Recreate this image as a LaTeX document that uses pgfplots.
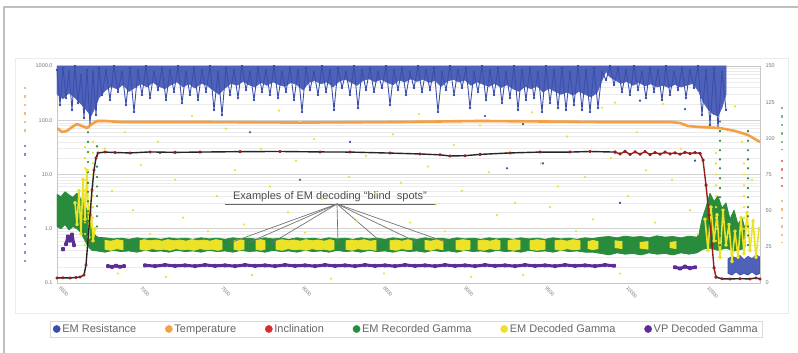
\documentclass[border=0pt]{standalone}
\usepackage{fontspec}
\setmainfont{Liberation Sans}
\usepackage{pgfplots}
\pgfplotsset{compat=1.18}
\definecolor{emblue}{RGB}{58,78,172}
\definecolor{embluefill}{RGB}{78,98,186}
\definecolor{temporange}{RGB}{243,160,70}
\definecolor{inclred}{RGB}{215,45,45}
\definecolor{inclmark}{RGB}{150,30,30}
\definecolor{emgreen}{RGB}{40,140,60}
\definecolor{emyellow}{RGB}{236,226,40}
\definecolor{vppurple}{RGB}{92,45,150}
\definecolor{ticktext}{RGB}{120,120,120}
\begin{document}
\begin{tikzpicture}
\useasboundingbox (0pt,0pt) rectangle (798pt,353pt);
\fill[white] (0pt,0pt) rectangle (798pt,353pt);
\draw[black!25, line width=1.2pt] (4pt,0pt) -- (4pt,346pt) -- (798pt,346pt);
\draw[black!8, line width=0.6pt] (15pt,40pt) rectangle (788pt,295pt);
% stray axis-title remnants
\draw[temporange!70, line width=2.5pt, dash pattern=on 2.5pt off 6pt] (25pt,266pt) -- (25pt,221pt);
\draw[vppurple!60, line width=2.5pt, dash pattern=on 2.5pt off 6pt] (25pt,208pt) -- (25pt,196pt);
\draw[emblue!60, line width=2.5pt, dash pattern=on 2.5pt off 6pt] (25pt,178pt) -- (25pt,91pt);
\draw[emgreen!60, line width=2.5pt, dash pattern=on 2.5pt off 6pt] (782pt,246pt) -- (782pt,203pt);
\draw[inclred!60, line width=2.5pt, dash pattern=on 2.5pt off 6pt] (782pt,193pt) -- (782pt,166pt);
\draw[temporange!70, line width=2.5pt, dash pattern=on 2.5pt off 6pt] (782pt,153pt) -- (782pt,110pt);

\begin{axis}[
  at={(57pt,70pt)}, anchor=south west, scale only axis,
  width=703pt, height=217pt,
  xmin=57, xmax=760, ymode=log, ymin=0.1, ymax=1000,
  axis line style={black!22, line width=0.6pt},
  tick pos=left, major tick length=0pt, minor tick length=0pt,
  xtick={64,145,226,307,388,469,550,631,712},
  xticklabels={6500,7000,7500,8000,8500,9000,9500,10000,10500},
  ytick={0.1,1,10,100,1000},
  yticklabels={0.1,1.0,10.0,100.0,1000.0},
  minor ytick={0.2,0.3,0.4,0.5,0.6,0.7,0.8,0.9,2,3,4,5,6,7,8,9,20,30,40,50,60,70,80,90,200,300,400,500,600,700,800,900},
  ymajorgrids, yminorgrids,
  major grid style={black!18, line width=0.6pt},
  minor grid style={black!8, line width=0.3pt},
  tick label style={text=ticktext},
  y tick label style={font=\fontsize{5.5}{6}\selectfont, xshift=-1pt},
  x tick label style={font=\fontsize{5}{6}\selectfont, rotate=-50, anchor=north west, inner sep=0.5pt, yshift=-3pt},
  /pgf/number format/assume math mode=true,
  unbounded coords=jump,
]
% EM Resistance: dense upper part of the band
\addplot[embluefill, fill=embluefill, line width=0.6pt] coordinates {
(57,300) (63,250) (69,320) (75,260) (81,200) (87,150) (91,120) (95,170) (99,260) (105,350) (111,420) (117,380) (123,450) (129,340) (135,400) (141,470) (147,410) (153,500) (159,420) (165,380) (171,450) (177,510) (183,410) (189,470) (195,390) (201,480) (207,440) (213,360) (219,300) (225,390) (231,480) (237,440) (243,520) (249,450) (255,410) (261,500) (267,440) (273,510) (279,450) (285,420) (291,500) (297,450) (303,360) (309,500) (315,540) (321,470) (327,510) (333,410) (339,520) (345,570) (351,500) (357,440) (363,540) (369,580) (375,510) (381,570) (387,500) (393,450) (399,550) (405,510) (411,580) (417,520) (423,570) (429,500) (435,540) (441,420) (447,520) (453,570) (459,510) (465,550) (471,440) (477,510) (483,460) (489,420) (495,480) (501,400) (507,450) (513,380) (519,340) (525,420) (531,380) (537,430) (543,330) (549,390) (555,340) (561,300) (567,330) (573,290) (579,340) (585,300) (591,270) (597,320) (603,600) (606,800) (609,650) (615,550) (621,480) (627,520) (633,440) (639,500) (645,430) (651,470) (657,410) (663,440) (669,400) (675,460) (681,410) (687,440) (693,480) (699,330) (703,220) (708,160) (713,130) (718,120) (722,170) (726,300) (726,1000) (57,1000)
} -- cycle;
% EM Resistance: individual swings
\addplot[emblue, line width=0.9pt, line join=round, mark=*, mark size=0.8pt] coordinates {
(57,844) (60,191) (63,918) (66,257) (69,775) (72,155) (75,1000) (78,208) (81,682) (84,110) (87,844) (90,82) (93,775) (96,125) (99,918) (102,292) (106,844) (110,236) (114,1000) (118,332) (122,775) (126,191) (130,918) (134,142) (138,844) (142,292) (146,1000) (150,257) (154,775) (158,361) (162,918) (166,236) (170,844) (174,332) (178,1000) (182,208) (186,775) (190,292) (194,918) (198,236) (202,844) (206,332) (210,1000) (214,155) (218,775) (222,125) (226,918) (230,292) (234,844) (238,257) (242,1000) (246,361) (250,775) (254,236) (258,918) (262,332) (266,844) (270,292) (274,1000) (278,257) (282,775) (286,332) (290,918) (294,236) (298,844) (302,142) (306,918) (310,361) (314,775) (318,292) (322,1000) (326,332) (330,844) (334,155) (338,918) (342,393) (346,775) (350,292) (354,1000) (358,168) (362,844) (366,361) (370,918) (374,332) (378,775) (382,393) (386,1000) (390,191) (394,844) (398,361) (402,918) (406,292) (410,775) (414,393) (418,1000) (422,332) (426,844) (430,361) (434,918) (438,142) (442,775) (446,361) (450,1000) (454,292) (458,844) (462,393) (466,918) (470,168) (474,775) (478,332) (482,1000) (486,236) (490,844) (494,292) (498,918) (502,208) (506,775) (510,257) (514,1000) (518,155) (522,844) (526,236) (530,918) (534,257) (538,775) (542,142) (546,1000) (550,208) (554,844) (558,168) (562,918) (566,155) (570,775) (574,191) (578,1000) (582,155) (586,844) (590,142) (594,918) (598,168) (602,775) (606,552) (610,1000) (614,447) (618,918) (622,332) (626,844) (630,292) (634,1000) (638,361) (642,775) (646,257) (650,918) (654,332) (658,844) (662,236) (666,1000) (670,292) (674,775) (678,361) (682,918) (686,257) (690,844) (694,393) (698,1000) (702,125) (706,844) (710,82) (714,918) (718,72) (722,775) (726,155)
};
\addplot[emblue, only marks, mark=*, mark size=0.9pt] coordinates {
(485,120) (523,85) (507,13) (543,16) (695,18) (640,230) (685,160) (350,40) (250,60) (160,25) (300,8) (620,3)
};
\addplot[emblue, fill=embluefill, line width=0.6pt] coordinates {
(728,0.15) (732,0.14) (736,0.16) (740,0.14) (744,0.15) (748,0.14) (752,0.16) (756,0.14) (760,0.15) (760,0.30) (756,0.33) (752,0.28) (748,0.31) (744,0.27) (740,0.32) (736,0.29) (732,0.31) (728,0.28)
} -- cycle;
% EM Recorded Gamma
\addplot[emgreen, fill=emgreen, line width=0.8pt, line join=round] coordinates {
(57,1.1) (61,1.0) (65,1.2) (69,0.95) (73,1.1) (77,1.0) (81,0.85) (85,0.6) (89,0.45) (92,0.40)
(97,0.39) (105,0.37) (113,0.40) (121,0.38) (129,0.39) (137,0.37) (145,0.40) (153,0.38) (161,0.39) (169,0.37) (177,0.40) (185,0.38) (193,0.39) (201,0.37) (209,0.40) (217,0.38) (225,0.39) (233,0.37) (241,0.40) (249,0.38) (257,0.39) (265,0.37) (273,0.40) (281,0.38) (289,0.39) (297,0.37) (305,0.40) (313,0.38) (321,0.39) (329,0.37) (337,0.40) (345,0.38) (353,0.39) (361,0.37) (369,0.40) (377,0.38) (385,0.39) (393,0.37) (401,0.40) (409,0.38) (417,0.39) (425,0.37) (433,0.40) (441,0.38) (449,0.39) (457,0.37) (465,0.40) (473,0.38) (481,0.39) (489,0.37) (497,0.40) (505,0.38) (513,0.39) (521,0.37) (529,0.40) (537,0.38) (545,0.39) (553,0.37) (561,0.40) (569,0.38) (577,0.39) (585,0.37) (593,0.37) (601,0.35) (609,0.33) (617,0.36) (625,0.34) (633,0.35) (641,0.33) (649,0.36) (657,0.34) (665,0.35) (673,0.33) (681,0.36) (689,0.34) (697,0.36)
(703,0.42) (710,0.44) (718,0.40) (726,0.44) (734,0.39) (742,0.42) (745,0.46)
(745,1.0) (742,1.6) (738,1.2) (734,2.2) (730,1.5) (726,3.0) (722,2.4) (718,4.0) (714,3.2) (710,4.5) (706,2.5) (702,1.5) (699,0.8)
(697,0.70) (689,0.73) (681,0.68) (673,0.72) (665,0.70) (657,0.74) (649,0.68) (641,0.72) (633,0.70) (625,0.73) (617,0.68) (609,0.72) (601,0.70) (593,0.66) (585,0.68) (577,0.64) (569,0.67) (561,0.65) (553,0.68) (545,0.64) (537,0.67) (529,0.65) (521,0.68) (513,0.64) (505,0.67) (497,0.65) (489,0.68) (481,0.64) (473,0.67) (465,0.65) (457,0.68) (449,0.64) (441,0.67) (433,0.65) (425,0.68) (417,0.64) (409,0.67) (401,0.65) (393,0.68) (385,0.64) (377,0.67) (369,0.65) (361,0.68) (353,0.64) (345,0.67) (337,0.65) (329,0.68) (321,0.64) (313,0.67) (305,0.65) (297,0.68) (289,0.64) (281,0.67) (273,0.65) (265,0.68) (257,0.64) (249,0.67) (241,0.65) (233,0.68) (225,0.64) (217,0.67) (209,0.65) (201,0.68) (193,0.64) (185,0.67) (177,0.65) (169,0.68) (161,0.64) (153,0.67) (145,0.65) (137,0.68) (129,0.64) (121,0.67) (113,0.65) (105,0.68) (97,0.70)
(92,0.9) (89,1.6) (85,2.8) (81,3.5) (77,4.5) (73,3.8) (69,4.2) (65,4.8) (61,3.9) (57,4.3)
} -- cycle;
\addplot[emgreen, only marks, mark=*, mark size=0.9pt] coordinates {
(88,0.6) (88,0.9) (88,1.4) (88,2.1) (88,3.2) (88,4.8) (88,7) (88,11) (88,17) (88,26) (88,40) (88,60)
(97,0.7) (97,1.1) (97,1.7) (97,2.6) (97,4) (97,6) (97,9) (97,14) (97,22) (97,33)
(720,0.5) (720,0.75) (720,1.1) (720,1.7) (720,2.5) (720,3.8) (720,5.6) (720,8.5) (720,13) (720,19) (720,28) (720,42) (720,63) (720,95)
(748,0.5) (748,0.75) (748,1.1) (748,1.7) (748,2.5) (748,3.8) (748,5.6) (748,8.5) (748,13) (748,19) (748,28) (748,42) (748,63)
};
% EM Decoded Gamma: band segments
\addplot[emyellow, fill=emyellow, line width=0.8pt] coordinates {(105,0.42) (111,0.40) (117,0.43) (123,0.41) (123,0.60) (117,0.63) (111,0.59) (105,0.61)} -- cycle;
\addplot[emyellow, fill=emyellow, line width=0.8pt] coordinates {(140,0.42) (146,0.40) (152,0.43) (158,0.41) (164,0.42) (170,0.40) (176,0.43) (182,0.41) (188,0.42) (194,0.40) (200,0.43) (206,0.41) (212,0.42) (218,0.40) (222,0.42) (222,0.60) (216,0.63) (210,0.59) (204,0.62) (198,0.60) (192,0.63) (186,0.59) (180,0.62) (174,0.60) (168,0.63) (162,0.59) (156,0.62) (150,0.60) (144,0.63) (140,0.60)} -- cycle;
\addplot[emyellow, fill=emyellow, line width=0.8pt] coordinates {(234,0.42) (239,0.40) (244,0.42) (244,0.61) (239,0.63) (234,0.60)} -- cycle;
\addplot[emyellow, fill=emyellow, line width=0.8pt] coordinates {(256,0.42) (261,0.40) (265,0.42) (265,0.60) (261,0.63) (256,0.61)} -- cycle;
\addplot[emyellow, fill=emyellow, line width=0.8pt] coordinates {(276,0.42) (282,0.40) (288,0.43) (294,0.41) (300,0.42) (306,0.40) (312,0.43) (318,0.41) (324,0.42) (330,0.40) (334,0.42) (334,0.60) (330,0.63) (324,0.59) (318,0.62) (312,0.60) (306,0.63) (300,0.59) (294,0.62) (288,0.60) (282,0.63) (276,0.60)} -- cycle;
\addplot[emyellow, fill=emyellow, line width=0.8pt] coordinates {(346,0.42) (352,0.40) (358,0.43) (364,0.41) (370,0.42) (376,0.40) (376,0.61) (370,0.59) (364,0.63) (358,0.60) (352,0.62) (346,0.60)} -- cycle;
\addplot[emyellow, fill=emyellow, line width=0.8pt] coordinates {(390,0.42) (396,0.40) (402,0.43) (408,0.41) (412,0.42) (412,0.60) (408,0.63) (402,0.59) (396,0.62) (390,0.60)} -- cycle;
\addplot[emyellow, fill=emyellow, line width=0.8pt] coordinates {(425,0.42) (431,0.40) (437,0.43) (443,0.41) (443,0.60) (437,0.63) (431,0.59) (425,0.61)} -- cycle;
\addplot[emyellow, fill=emyellow, line width=0.8pt] coordinates {(456,0.42) (463,0.40) (470,0.42) (470,0.60) (463,0.63) (456,0.60)} -- cycle;
\addplot[emyellow, fill=emyellow, line width=0.8pt] coordinates {(478,0.42) (484,0.40) (490,0.43) (496,0.41) (500,0.42) (500,0.60) (496,0.63) (490,0.59) (484,0.62) (478,0.60)} -- cycle;
\addplot[emyellow, fill=emyellow, line width=0.8pt] coordinates {(508,0.42) (514,0.40) (520,0.42) (520,0.61) (514,0.63) (508,0.60)} -- cycle;
\addplot[emyellow, fill=emyellow, line width=0.8pt] coordinates {(530,0.42) (537,0.40) (545,0.42) (545,0.60) (537,0.63) (530,0.60)} -- cycle;
\addplot[emyellow, fill=emyellow, line width=0.8pt] coordinates {(555,0.42) (561,0.40) (567,0.43) (573,0.41) (580,0.42) (580,0.60) (573,0.63) (567,0.59) (561,0.62) (555,0.60)} -- cycle;
\addplot[emyellow, fill=emyellow, line width=0.8pt] coordinates {(588,0.43) (593,0.41) (598,0.43) (598,0.58) (593,0.61) (588,0.58)} -- cycle;
\addplot[emyellow, fill=emyellow, line width=0.8pt] coordinates {(615,0.45) (622,0.43) (622,0.58) (615,0.60)} -- cycle;
\addplot[emyellow, fill=emyellow, line width=0.8pt] coordinates {(640,0.44) (648,0.42) (648,0.58) (640,0.56)} -- cycle;
\addplot[emyellow, fill=emyellow, line width=0.8pt] coordinates {(670,0.45) (676,0.43) (676,0.58) (670,0.56)} -- cycle;
% EM Decoded Gamma: scattered parts
\addplot[emyellow, line width=1.6pt, line join=round, mark=*, mark size=1.1pt] coordinates {
(75,3) (77,1.2) (79,5) (81,0.8) (83,8) (85,1.5) (87,12) (89,0.7) (91,2.5) (93,0.6) (95,1.0) (97,nan)
(705,1.5) (708,0.4) (711,2.5) (714,0.6) (717,1.8) (720,0.3) (723,2.2) (726,0.5) (729,1.2) (732,0.25) (735,0.9) (738,0.3) (741,1.6) (744,0.35) (747,2.0) (750,0.4) (753,1.4) (756,0.3) (759,1.0)
};
\addplot[emyellow, only marks, mark=*, mark size=0.9pt] coordinates {
(85,0.5) (85,0.8) (85,1.3) (85,2) (85,3.2) (85,5) (85,8) (85,13) (85,20) (85,32)
(93,0.6) (93,1) (93,1.6) (93,2.5) (93,4) (93,6.3) (93,10) (93,16) (93,25) (93,40)
(716,0.6) (716,1) (716,1.6) (716,2.5) (716,4) (716,6.3) (716,10) (716,16) (716,25)
(744,0.6) (744,1) (744,1.6) (744,2.5) (744,4) (744,6.3) (744,10) (744,16)
(105,30) (112,5) (118,0.15) (125,60) (133,2.2) (141,15) (150,0.8) (158,40) (166,0.13) (175,8) (183,1.6) (192,120) (200,25) (208,0.9) (217,4) (226,70) (235,12) (244,1.2) (252,0.14) (261,30) (270,6) (279,150) (288,2) (296,18) (305,0.85) (314,45) (322,3.5) (331,0.12) (340,90) (349,9) (357,1.4) (366,22) (375,4.5) (384,0.15) (393,55) (401,7) (410,1.3) (419,130) (428,14) (436,2.8) (445,0.9) (454,35) (462,5) (471,0.13) (480,80) (489,11) (497,1.8) (506,25) (515,3) (523,0.14) (532,140) (541,16) (550,2.5) (558,6) (567,50) (576,0.9) (585,9) (593,1.5) (602,170) (611,20) (615,210) (620,0.15) (628,4) (637,60) (646,12) (655,1.3) (663,200) (672,8) (681,30) (690,2.2) (698,0.8) (735,180) (742,40) (752,8)
};
% VP Decoded Gamma
\addplot[vppurple, line width=3pt, line join=round, mark=*, mark size=0.9pt] coordinates {
(63,0.42) (63,0.42) (64,nan)
(66,0.52) (68,0.72) (70,0.6) (72,0.78) (74,0.5) (76,nan)
(108,0.205) (112,0.198) (116,0.208) (120,0.199) (124,0.204) (130,nan)
(145,0.212) (155,0.205) (165,0.215) (175,0.207) (185,0.212) (195,0.205) (205,0.215) (215,0.207) (225,0.212) (235,0.205) (245,0.215) (255,0.207) (265,0.212) (275,0.205) (285,0.215) (295,0.207) (305,0.212) (315,0.205) (325,0.215) (335,0.207) (345,0.212) (355,0.205) (365,0.215) (375,0.207) (385,0.212) (395,0.205) (405,0.215) (415,0.207) (425,0.212) (435,0.205) (445,0.215) (455,0.207) (465,0.212) (475,0.205) (485,0.215) (495,0.207) (505,0.212) (515,0.205) (525,0.215) (535,0.207) (545,0.212) (555,0.205) (565,0.215) (575,0.207) (585,0.212) (595,0.205) (605,0.215) (614,0.208) (620,nan)
(675,0.195) (680,0.185) (685,0.2) (690,0.188) (695,0.195)
};
% annotation
\node[font=\fontsize{11}{13}\selectfont, text=black!70, anchor=base] at (axis cs:330,3.4) {Examples of EM decoding “blind\ \ spots”};
\draw[black!60, line width=0.8pt] (axis cs:225,2.86) -- (axis cs:435,2.86);
\draw[black!55, line width=0.7pt] (axis cs:337,2.86) -- (axis cs:230,0.55);
\draw[black!55, line width=0.7pt] (axis cs:337,2.86) -- (axis cs:248,0.55);
\draw[black!55, line width=0.7pt] (axis cs:337,2.86) -- (axis cs:272,0.55);
\draw[black!55, line width=0.7pt] (axis cs:337,2.86) -- (axis cs:338,0.55);
\draw[black!55, line width=0.7pt] (axis cs:337,2.86) -- (axis cs:382,0.55);
\draw[black!55, line width=0.7pt] (axis cs:337,2.86) -- (axis cs:418,0.55);
\draw[black!55, line width=0.7pt] (axis cs:337,2.86) -- (axis cs:448,0.55);
\end{axis}

\begin{axis}[
  at={(57pt,70pt)}, anchor=south west, scale only axis,
  width=703pt, height=217pt,
  xmin=57, xmax=760, ymin=0, ymax=150,
  axis y line*=right, axis x line=none,
  axis line style={-, black!22, line width=0.6pt},
  major tick length=0pt,
  ytick={0,25,50,75,100,125,150},
  y tick label style={font=\fontsize{5.5}{6}\selectfont, text=ticktext, xshift=2pt},
  /pgf/number format/assume math mode=true,
  legend style={at={(rel axis cs:0.497,-0.212)}, anchor=center, legend columns=6,
    draw=black!15, font=\fontsize{11}{13}\selectfont, text=black!60,
    /tikz/every even column/.append style={column sep=27pt}, inner ysep=1.5pt},
  legend cell align=left,
]
\addlegendimage{only marks, mark=*, mark size=3.6pt, emblue}
\addlegendentry{EM Resistance}
\addlegendimage{only marks, mark=*, mark size=3.6pt, temporange}
\addlegendentry{Temperature}
\addlegendimage{only marks, mark=*, mark size=3.6pt, inclred}
\addlegendentry{Inclination}
\addlegendimage{only marks, mark=*, mark size=3.6pt, emgreen}
\addlegendentry{EM Recorded Gamma}
\addlegendimage{only marks, mark=*, mark size=3.6pt, emyellow}
\addlegendentry{EM Decoded Gamma}
\addlegendimage{only marks, mark=*, mark size=3.6pt, vppurple}
\addlegendentry{VP Decoded Gamma}
% Temperature
\addplot[forget plot, temporange, line width=2.6pt, line join=round] coordinates {
(57,107.1) (62,104.4) (67,105.1) (72,107.8) (77,109.9) (82,108.5) (87,107.1) (92,109.9) (97,112.0) (105,112.0) (120,111.3) (200,111.3) (300,110.9) (400,111.3) (480,112.0) (550,111.6) (600,111.3) (670,111.3) (680,110.6) (688,108.5) (700,107.8) (720,107.1) (735,105.1) (748,102.3) (760,97.5)
};
% Inclination
\addplot[forget plot, black!85, line width=1.4pt, line join=round, mark=*, mark size=0.9pt, mark options={fill=inclmark, draw=inclmark}] coordinates {
(57,3.5) (63,3.6) (70,3.5) (76,3.8) (80,4.1) (84,5.5) (86,12.4) (88,29.7) (90,47) (92,64.3) (94,78.1) (96,86.4) (98,89.9) (105,90.5) (115,90.2) (130,89.9) (150,90.6) (175,90.3) (200,90.5) (240,90.8) (280,90.9) (320,90.6) (350,90.5) (390,89.8) (420,89.2) (440,88.6) (450,87.8) (465,88.0) (480,88.9) (510,89.9) (540,90.5) (570,90.5) (590,90.9) (615,90.5)
};
\addplot[forget plot, inclmark, line width=1.4pt, line join=round, mark=*, mark size=1pt, mark options={fill=inclmark, draw=inclmark}] coordinates {
(615,90.5) (620,89.2) (625,91) (630,88.9) (635,90.6) (640,89.0) (645,90.8) (650,88.8) (655,90.2) (660,89.1) (665,90.4) (670,89.3) (675,90.0) (680,89.0) (685,90.3) (690,89.5) (695,90.1) (700,89.6) (703,85) (706,67.7) (709,47) (712,26.3) (714,10.4) (716,4.1)
};
\addplot[forget plot, black!85, line width=1.4pt, line join=round, mark=*, mark size=0.9pt, mark options={fill=inclmark, draw=inclmark}] coordinates {
(716,4.1) (722,2.9) (730,2.8) (740,3.0) (750,2.8) (756,3.5) (760,2.8)
};
\end{axis}
\end{tikzpicture}
\end{document}
